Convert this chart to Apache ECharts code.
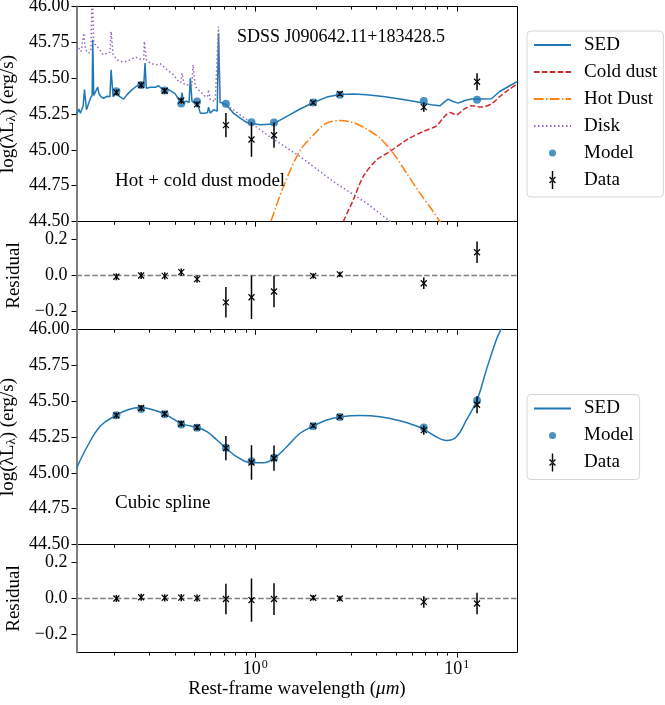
<!DOCTYPE html>
<html>
<head>
<meta charset="utf-8">
<script src="https://cdn.jsdelivr.net/npm/echarts@6/dist/echarts.min.js"></script>
<style>
  html, body { margin: 0; padding: 0; background: #fff; }
  #chart { width: 665px; height: 705px; }
</style>
</head>
<body>
<div id="chart"></div>
<script>
// Photometric bands (rest-frame wavelength, micron): ugriz, JHK, W1-W4
const wavelengths = [0.205, 0.272, 0.356, 0.430, 0.515, 0.716, 0.959, 1.24, 1.94, 2.63, 6.86, 12.6];
const obsLogL   = [45.401, 45.452, 45.412, 45.343, 45.317, 45.172, 45.072, 45.102, 45.329, 45.390, 45.298, 45.475];
const obsErr    = [0.02, 0.02, 0.02, 0.02, 0.02, 0.085, 0.12, 0.088, 0.015, 0.015, 0.032, 0.06];

// Hot + cold dust model photometry and residuals
const dustModel    = [45.408, 45.452, 45.414, 45.324, 45.337, 45.321, 45.193, 45.191, 45.331, 45.384, 45.341, 45.350];
const dustResidual = [-0.007, 0.0, -0.002, 0.019, -0.02, -0.149, -0.121, -0.089, -0.002, 0.006, -0.043, 0.129];

// Cubic spline model photometry and residuals
const splineModel    = [45.401, 45.445, 45.408, 45.338, 45.315, 45.175, 45.081, 45.105, 45.325, 45.390, 45.317, 45.505];
const splineResidual = [0.0, 0.007, 0.004, 0.005, 0.002, -0.003, -0.009, -0.003, 0.004, 0.0, -0.019, -0.028];

// Total SED of the hot + cold dust model [wavelength, log(lambda L)]
const sedDust = [
  [0.1300, 45.244], [0.1334, 45.284], [0.1360, 45.256], [0.1403, 45.307], [0.1424, 45.420],
  [0.1457, 45.280], [0.1524, 45.360], [0.1554, 45.380], [0.1565, 45.768], [0.1583, 45.380],
  [0.1614, 45.372], [0.1657, 45.437], [0.1676, 45.395], [0.1722, 45.370], [0.1774, 45.360],
  [0.1844, 45.374], [0.1904, 45.370], [0.1930, 45.558], [0.1975, 45.370], [0.2027, 45.390],
  [0.2129, 45.372], [0.2228, 45.354], [0.2317, 45.385], [0.2452, 45.420], [0.2596, 45.447],
  [0.2695, 45.454], [0.2802, 45.450], [0.2844, 45.605], [0.2886, 45.430], [0.3021, 45.437],
  [0.3199, 45.437], [0.3321, 45.447], [0.3516, 45.414], [0.3722, 45.420], [0.4018, 45.391],
  [0.4171, 45.350], [0.4278, 45.340], [0.4337, 45.400], [0.4416, 45.330], [0.4555, 45.340],
  [0.4702, 45.330], [0.4769, 45.500], [0.4862, 45.337], [0.5047, 45.326], [0.5240, 45.300],
  [0.5342, 45.256], [0.5656, 45.256], [0.5806, 45.260], [0.5873, 45.298], [0.5988, 45.256],
  [0.6216, 45.280], [0.6338, 45.267], [0.6483, 45.270], [0.6581, 45.814], [0.6701, 45.330],
  [0.6919, 45.326], [0.7161, 45.318], [0.7807, 45.256], [0.8427, 45.221], [0.9097, 45.190],
  [0.9588, 45.183], [1.0587, 45.175], [1.2318, 45.181], [1.4353, 45.233], [1.6704, 45.285],
  [1.9436, 45.330], [2.2646, 45.368], [2.6357, 45.386], [3.0664, 45.389], [3.5727, 45.384],
  [4.3158, 45.372], [5.2229, 45.354], [6.3183, 45.335], [7.6318, 45.312], [8.2375, 45.307],
  [8.5535, 45.326], [9.0557, 45.354], [9.5875, 45.337], [10.148, 45.326], [10.955, 45.344],
  [11.824, 45.354], [13.255, 45.354], [14.851, 45.356], [16.326, 45.407], [18.300, 45.447],
  [20.000, 45.478]
];

const coldDust = [
  [2.55, 44.40], [2.7358, 44.50], [3.0664, 44.651], [3.4375, 44.814], [4.0038, 44.930],
  [4.6603, 44.988], [5.6364, 45.070], [6.8126, 45.128], [7.9340, 45.168], [8.5535, 45.221],
  [9.2323, 45.260], [9.9655, 45.244], [10.744, 45.279], [11.824, 45.307], [13.255, 45.298],
  [14.851, 45.321], [16.326, 45.372], [18.300, 45.424], [20.000, 45.462]
];

const hotDust = [
  [1.127, 44.40], [1.1959, 44.50], [1.3806, 44.744], [1.6704, 44.995], [2.0203, 45.128],
  [2.2646, 45.186], [2.6357, 45.204], [3.0664, 45.190], [3.5727, 45.145], [4.1570, 45.082],
  [4.8389, 44.977], [5.6364, 44.837], [6.5606, 44.698], [7.6318, 44.570], [8.2375, 44.50],
  [9.17, 44.40]
];

const disk = [
  [0.1300, 45.686], [0.1334, 45.710], [0.1371, 45.686], [0.1413, 45.814], [0.1440, 45.698],
  [0.1495, 45.675], [0.1532, 45.690], [0.1554, 46.120], [0.1583, 45.745], [0.1645, 45.721],
  [0.1695, 45.698], [0.1762, 45.663], [0.1844, 45.675], [0.1904, 45.680], [0.1930, 45.826],
  [0.1975, 45.663], [0.2066, 45.628], [0.2146, 45.616], [0.2272, 45.616], [0.2405, 45.628],
  [0.2546, 45.647], [0.2695, 45.633], [0.2802, 45.630], [0.2821, 45.756], [0.2886, 45.628],
  [0.3021, 45.605], [0.3199, 45.593], [0.3386, 45.600], [0.3655, 45.558], [0.3940, 45.523],
  [0.4171, 45.477], [0.4278, 45.470], [0.4337, 45.535], [0.4452, 45.454], [0.4677, 45.454],
  [0.4851, 45.450], [0.4918, 45.593], [0.5047, 45.442], [0.5342, 45.407], [0.5656, 45.372],
  [0.5806, 45.370], [0.5873, 45.420], [0.5988, 45.349], [0.6338, 45.340], [0.6483, 45.340],
  [0.6581, 45.860], [0.6701, 45.330], [0.6840, 45.326], [0.7807, 45.279], [1.1427, 45.105],
  [1.6704, 44.953], [2.4409, 44.779], [3.5727, 44.628], [4.5709, 44.510], [5.85, 44.40]
];

// Cubic spline SED
const sedSpline = [
  [0.1300, 45.031], [0.1468, 45.182], [0.1709, 45.327], [0.2050, 45.402], [0.2317, 45.439],
  [0.2717, 45.456], [0.3137, 45.439], [0.3556, 45.411], [0.3940, 45.374], [0.4302, 45.343],
  [0.4769, 45.327], [0.5146, 45.318], [0.5767, 45.287], [0.6462, 45.229], [0.7161, 45.173],
  [0.8117, 45.112], [0.9588, 45.070], [1.0993, 45.070], [1.2418, 45.101], [1.4353, 45.182],
  [1.6704, 45.276], [1.9436, 45.327], [2.2646, 45.369], [2.6266, 45.390], [3.3108, 45.400],
  [4.1570, 45.392], [5.2229, 45.364], [6.3183, 45.327], [6.8660, 45.304], [7.6318, 45.264],
  [8.8920, 45.226], [9.9655, 45.252], [11.169, 45.369], [12.605, 45.509], [14.028, 45.720],
  [15.723, 45.930], [16.645, 46.010], [17.5, 46.12]
];

// Axis ticks
const xMin = 0.13, xMax = 20;
const xMajorTicks = [1, 10];
const xMinorTicks = [0.2, 0.3, 0.4, 0.5, 0.6, 0.7, 0.8, 0.9, 2, 3, 4, 5, 6, 7, 8, 9];
const residualTicks = [-0.2, 0, 0.2];

const FONT = 'Liberation Serif';
const C_SED = '#1f77b4', C_COLD = '#d62728', C_HOT = '#ff7f0e', C_DISK = '#9467bd';

const MODEL_ICON = 'path://M0,0M20,18M6.5,9A3.5,3.5,0,1,1,13.5,9A3.5,3.5,0,1,1,6.5,9Z';
const DATA_ICON = 'path://M0,0M20,18M9.3,0H10.7V18H9.3Z' +
  'M6.6,6.5L7.5,5.6L13.4,11.5L12.5,12.4Z' +
  'M13.4,6.5L12.5,5.6L6.6,11.5L7.5,12.4Z';

const grids = [
  { left: 76.5, top: 6.5,   width: 441, height: 215 },
  { left: 76.5, top: 221.5, width: 441, height: 108 },
  { left: 76.5, top: 329.5, width: 441, height: 215 },
  { left: 76.5, top: 544.5, width: 441, height: 108 }
].map(g => Object.assign({
  show: true, borderColor: '#000', borderWidth: 1, backgroundColor: 'transparent',
  containLabel: false, outerBoundsMode: 'none'
}, g));

function tickAxis(gi, position, values, len, withLabels) {
  const ax = {
    type: 'log', gridIndex: gi, min: xMin, max: xMax, position: position,
    axisLine: { show: false, onZero: false },
    splitLine: { show: false },
    axisTick: {
      show: true, customValues: values, inside: position === 'top', length: len,
      lineStyle: { color: '#000', width: 1 }
    },
    axisLabel: { show: false }
  };
  if (withLabels) {
    ax.axisLabel = {
      show: true, customValues: xMajorTicks, margin: 6,
      fontFamily: FONT, fontSize: 18, color: '#000',
      formatter: v => '10{sup|' + Math.round(Math.log10(v)) + '}',
      rich: { sup: { fontFamily: FONT, fontSize: 12, color: '#000', padding: [0, 0, 10, 1] } }
    };
    ax.name = 'Rest-frame wavelength ({it|μm})';
    ax.nameLocation = 'middle';
    ax.nameGap = 27;
    ax.nameTextStyle = {
      fontFamily: FONT, fontSize: 19, color: '#000',
      rich: { it: { fontFamily: FONT, fontSize: 19, fontStyle: 'italic', color: '#000' } }
    };
  }
  return ax;
}

const xAxes = [];
for (let gi = 0; gi < 4; gi++) {
  xAxes.push(tickAxis(gi, 'bottom', xMajorTicks, 5, gi === 3));
  xAxes.push(tickAxis(gi, 'bottom', xMinorTicks, 3, false));
  xAxes.push(tickAxis(gi, 'top', xMajorTicks, 5, false));
  xAxes.push(tickAxis(gi, 'top', xMinorTicks, 3, false));
}

function lumAxis(gi) {
  return {
    type: 'value', gridIndex: gi, min: 44.5, max: 46, interval: 0.25,
    axisLine: { show: true, lineStyle: { color: '#808080', width: 2 } },
    axisTick: { show: true, length: 5, lineStyle: { color: '#000', width: 1 } },
    splitLine: { show: false },
    axisLabel: { margin: 7, fontFamily: FONT, fontSize: 18, color: '#000', formatter: v => v.toFixed(2) },
    name: 'log(λL{sub|λ}) (erg/s)', nameLocation: 'middle', nameGap: 42,
    nameTextStyle: {
      fontFamily: FONT, fontSize: 19, color: '#000',
      rich: { sub: { fontFamily: FONT, fontSize: 13, color: '#000', padding: [8, 0, 0, 0] } }
    }
  };
}

function residualAxis(gi) {
  return {
    type: 'value', gridIndex: gi, min: -0.3, max: 0.3, interval: 0.1,
    axisLine: { show: true, lineStyle: { color: '#808080', width: 2 } },
    axisTick: { show: true, length: 5, customValues: residualTicks, lineStyle: { color: '#000', width: 1 } },
    splitLine: { show: false },
    axisLabel: {
      margin: 9, customValues: residualTicks, fontFamily: FONT, fontSize: 18, color: '#000',
      formatter: v => (v < -1e-9 ? '\u2212' : '') + Math.abs(v).toFixed(1)
    },
    name: 'Residual', nameLocation: 'middle', nameGap: 43,
    nameTextStyle: { fontFamily: FONT, fontSize: 19, color: '#000' }
  };
}

const yAxes = [lumAxis(0), residualAxis(1), lumAxis(2), residualAxis(3)];

// Error bar with an 'x' marker at the measured value
function errorBarItem(params, api) {
  const x = api.value(0), y = api.value(1), e = api.value(2);
  const c = api.coord([x, y]);
  const hi = api.coord([x, y + e]);
  const lo = api.coord([x, y - e]);
  const s = 3;
  return {
    type: 'group',
    children: [
      { type: 'line', shape: { x1: c[0], y1: hi[1], x2: c[0], y2: lo[1] }, style: { stroke: '#000', lineWidth: 1.5 } },
      { type: 'line', shape: { x1: c[0] - s, y1: c[1] - s, x2: c[0] + s, y2: c[1] + s }, style: { stroke: '#000', lineWidth: 1.2 } },
      { type: 'line', shape: { x1: c[0] - s, y1: c[1] + s, x2: c[0] + s, y2: c[1] - s }, style: { stroke: '#000', lineWidth: 1.2 } }
    ]
  };
}

function errorSeries(name, gi, values, withZero) {
  const s = {
    name: name, type: 'custom', xAxisIndex: gi * 4, yAxisIndex: gi, z: 5,
    renderItem: errorBarItem, clip: true,
    itemStyle: { color: '#000' },
    encode: { x: 0, y: 1 },
    data: wavelengths.map((w, i) => [w, values[i], obsErr[i]])
  };
  if (withZero) {
    s.markLine = {
      silent: true, symbol: 'none', label: { show: false }, z: 1,
      lineStyle: { color: '#808080', type: [5.5, 2.4], width: 1.3 },
      data: [{ yAxis: 0 }]
    };
  }
  return s;
}

function curve(name, gi, data, color, type, smooth) {
  return {
    name: name, type: 'line', xAxisIndex: gi * 4, yAxisIndex: gi, data: data,
    symbol: 'none', showSymbol: false, smooth: smooth, clip: true, z: 2,
    lineStyle: { color: color, width: 1.5, type: type },
    itemStyle: { color: color }
  };
}

function modelSeries(gi, values) {
  return {
    name: 'Model', type: 'scatter', xAxisIndex: gi * 4, yAxisIndex: gi, z: 3,
    symbol: 'circle', symbolSize: 8, itemStyle: { color: C_SED },
    data: wavelengths.map((w, i) => [w, values[i]])
  };
}

const series = [
  curve('SED', 0, sedDust, C_SED, 'solid', false),
  curve('Cold dust', 0, coldDust, C_COLD, [5.5, 2.4], 0.3),
  curve('Hot Dust', 0, hotDust, C_HOT, [9.6, 2.4, 1.5, 2.4], 0.3),
  curve('Disk', 0, disk, C_DISK, [1.5, 2.5], false),
  modelSeries(0, dustModel),
  errorSeries('Data', 0, obsLogL, false),
  errorSeries('Residual dust', 1, dustResidual, true),
  curve('SED', 2, sedSpline, C_SED, 'solid', 0.4),
  modelSeries(2, splineModel),
  errorSeries('Data', 2, obsLogL, false),
  errorSeries('Residual spline', 3, splineResidual, true)
];

const lineItem = name => ({ name: name, itemStyle: { opacity: 0 } });

const legendBase = {
  orient: 'vertical', left: 527, itemWidth: 37, itemHeight: 18, itemGap: 8,
  padding: [4.5, 6, 7.5, 6], backgroundColor: '#fff',
  borderColor: '#d6d6d6', borderWidth: 1, borderRadius: 4, selectedMode: false,
  textStyle: { fontFamily: FONT, fontSize: 19, color: '#000', padding: [0, 0, 0, 8] }
};

const legends = [
  Object.assign({}, legendBase, {
    top: 31,
    data: [lineItem('SED'), lineItem('Cold dust'), lineItem('Hot Dust'), lineItem('Disk'),
           { name: 'Model', icon: MODEL_ICON }, { name: 'Data', icon: DATA_ICON }]
  }),
  Object.assign({}, legendBase, {
    top: 394.5,
    data: [lineItem('SED'), { name: 'Model', icon: MODEL_ICON }, { name: 'Data', icon: DATA_ICON }]
  })
];

const textStyle = { fontFamily: FONT, fontWeight: 'normal', color: '#000' };
const titles = [
  { text: 'SDSS J090642.11+183428.5', left: 237, top: 28, padding: 0, textStyle: Object.assign({ fontSize: 18 }, textStyle) },
  { text: 'Hot + cold dust model', left: 115, top: 172, padding: 0, textStyle: Object.assign({ fontSize: 19 }, textStyle) },
  { text: 'Cubic spline', left: 115, top: 494, padding: 0, textStyle: Object.assign({ fontSize: 19 }, textStyle) }
];

const chart = echarts.init(document.getElementById('chart'), null, { renderer: 'canvas' });
chart.setOption({
  animation: false,
  backgroundColor: '#fff',
  textStyle: { fontFamily: FONT },
  title: titles,
  legend: legends,
  grid: grids,
  xAxis: xAxes,
  yAxis: yAxes,
  series: series
});
</script>
</body>
</html>
